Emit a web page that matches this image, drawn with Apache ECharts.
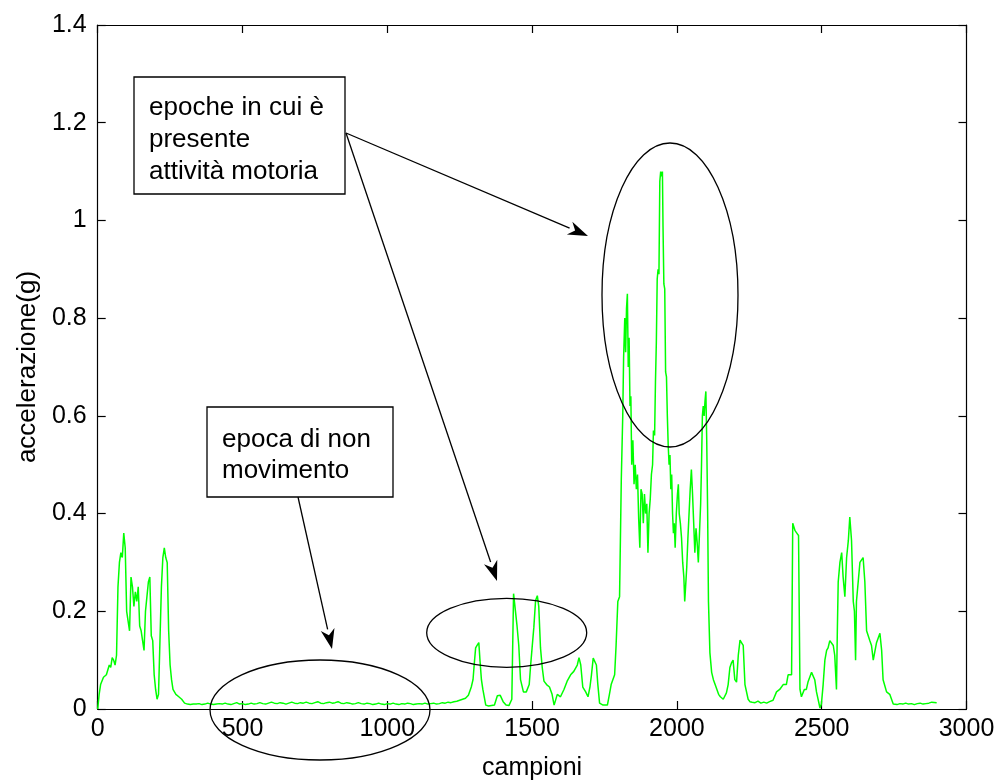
<!DOCTYPE html>
<html><head><meta charset="utf-8">
<script src="https://cdn.jsdelivr.net/npm/echarts@6/dist/echarts.min.js"></script>
<style>html,body{margin:0;padding:0;background:#fff}#c{width:995px;height:780px}</style>
</head><body><div id="c"></div>
<script>
// sample index (campioni)
const samples = [
0,5,10,20,30,40,45,50,55,60,65,70,75,80,85,90,95,100,105,110,115,120,125,130,135,140,145,150,155,160,165,170,175,180,185,190,195,200,205,210,215,220,225,230,235,240,245,250,255,260,270,280,290,300,
310,320,330,340,350,360,370,380,390,400,410,420,430,440,450,460,470,480,490,500,
510,520,530,540,550,560,570,580,590,600,610,620,630,640,650,660,670,680,690,700,
710,720,730,740,750,760,770,780,790,800,810,820,830,840,850,860,870,880,890,900,
910,920,930,940,950,960,970,980,990,1000,1010,1020,1030,1040,1050,1060,1070,1080,1090,1100,
1110,1120,1130,1140,1150,1160,1170,1180,1190,1200,1210,1220,1230,1240,1250,
1260,1270,1280,1290,1296,1300,1305,1310,1316,1320,1325,1330,1340,1350,1360,1370,1380,1390,1400,1410,1420,1430,1436,1442,1448,1454,1460,1470,1480,1490,1495,1500,1506,1512,1518,1523,1529,1535,1541,1550,1560,1569,1576,1587,1598,1610,1621,1633,1644,1656,1662,1668,1675,1685,1693,1700,1705,1711,1716,1722,1727,1733,1745,1760,1767,1773,1785,
1790,1796,1802,1808,1813,1816,1820,1823,1826,1829,1832,1835,1838,1841,1844,1848,1852,1856,1860,1864,1868,1872,1876,1880,1884,1888,1892,1896,1900,1904,1908,1912,1916,1919,1923,1926,1929,1932,1935,1938,1941,1944,1947,1950,1952,1955,1958,1961,1964,1967,1970,1973,1976,1979,1982,1985,1988,1991,1994,1998,2002,2005,2008,2012,2016,2020,2024,2027,2030,2034,2038,2042,2046,2050,2054,2058,2062,2066,2070,2074,2078,2082,2085,2088,2091,2094,2097,2100,2103,2106,2109,2114,2120,2126,2132,2138,2144,
2150,2160,2171,2177,2183,2189,2194,2200,2206,2212,2218,2224,2229,2235,2246,2252,2260,2270,2280,2290,2300,2310,2320,2332,2344,2355,2367,2378,2384,2396,2400,2403,2408,2414,2420,2425,2430,2440,2447,2453,2465,2476,2482,2494,2499,2505,2511,2517,2522,2528,2540,2545,2551,2554,2557,2563,2569,2574,2580,2586,2592,2597,2603,2609,2613,2617,2620,2632,2643,2649,2655,2666,2672,2678,2689,2701,2707,2712,2724,2735,2747,2760,2770,2780,2790,2800,2810,2820,2830,2840,2850,2860,2870,2880,2897
];
// acceleration (g)
const accel = [
0.0,0.03,0.05,0.065,0.07,0.09,0.085,0.105,0.10,0.09,0.11,0.25,0.30,0.32,0.31,0.36,0.33,0.20,0.18,0.16,0.27,0.25,0.21,0.24,0.22,0.25,0.17,0.16,0.14,0.12,0.20,0.23,0.26,0.27,0.15,0.14,0.07,0.04,0.02,0.03,0.14,0.25,0.31,0.33,0.31,0.30,0.16,0.09,0.06,0.04,0.03,0.025,0.02,0.012,
0.010,0.009,0.010,0.010,0.011,0.009,0.010,0.012,0.010,0.009,0.010,0.011,0.010,0.012,0.010,0.009,0.011,0.013,0.010,0.011,
0.009,0.010,0.012,0.010,0.011,0.013,0.011,0.010,0.012,0.014,0.012,0.011,0.013,0.012,0.010,0.012,0.014,0.012,0.011,0.013,
0.012,0.014,0.012,0.011,0.013,0.015,0.012,0.011,0.013,0.014,0.012,0.013,0.015,0.012,0.011,0.013,0.012,0.010,0.011,0.013,
0.011,0.010,0.012,0.011,0.009,0.010,0.012,0.010,0.009,0.011,0.010,0.012,0.010,0.009,0.011,0.010,0.012,0.011,0.009,0.010,
0.011,0.010,0.012,0.010,0.011,0.012,0.010,0.011,0.013,0.012,0.014,0.013,0.015,0.016,0.018,
0.020,0.022,0.028,0.045,0.06,0.09,0.125,0.13,0.136,0.10,0.06,0.04,0.008,0.006,0.007,0.008,0.027,0.028,0.015,0.008,0.007,0.02,0.236,0.24,0.17,0.13,0.06,0.035,0.035,0.05,0.09,0.125,0.167,0.222,0.232,0.21,0.125,0.085,0.057,0.05,0.045,0.03,0.008,0.03,0.025,0.04,0.057,0.07,0.077,0.09,0.105,0.09,0.045,0.035,0.025,0.046,0.07,0.104,0.10,0.09,0.05,0.012,0.008,0.008,0.03,0.05,0.07,
0.13,0.22,0.23,0.47,0.60,0.72,0.80,0.73,0.82,0.85,0.70,0.76,0.62,0.64,0.50,0.55,0.46,0.50,0.45,0.48,0.39,0.33,0.45,0.44,0.38,0.44,0.40,0.42,0.32,0.40,0.43,0.48,0.50,0.57,0.56,0.67,0.75,0.88,0.90,0.89,1.08,1.10,1.09,1.10,0.99,0.87,0.86,0.69,0.68,0.60,0.54,0.50,0.52,0.45,0.48,0.40,0.36,0.38,0.33,0.40,0.44,0.46,0.40,0.38,0.35,0.30,0.27,0.22,0.25,0.29,0.35,0.40,0.45,0.49,0.44,0.38,0.32,0.37,0.34,0.30,0.36,0.42,0.50,0.60,0.62,0.60,0.63,0.65,0.55,0.41,0.22,0.115,0.075,0.06,0.05,0.05,0.03,
0.025,0.02,0.033,0.05,0.085,0.095,0.10,0.06,0.055,0.11,0.141,0.135,0.13,0.05,0.02,0.015,0.014,0.013,0.016,0.012,0.014,0.012,0.015,0.018,0.035,0.04,0.05,0.05,0.07,0.07,0.38,0.38,0.365,0.36,0.355,0.04,0.025,0.04,0.04,0.056,0.075,0.06,0.035,0.002,0.01,0.05,0.10,0.12,0.125,0.14,0.13,0.11,0.04,0.16,0.26,0.30,0.32,0.27,0.23,0.31,0.345,0.393,0.345,0.22,0.20,0.10,0.22,0.30,0.31,0.26,0.16,0.14,0.13,0.10,0.135,0.155,0.12,0.06,0.035,0.03,0.01,0.009,0.011,0.010,0.012,0.010,0.011,0.009,0.011,0.012,0.010,0.011,0.012,0.014,0.013
];
const xTicks = ['0','500','1000','1500','2000','2500','3000'];
const yTicks = ['0','0.2','0.4','0.6','0.8','1','1.2','1.4'];

const FONT = '"Liberation Sans", Arial, sans-serif';
const chart = echarts.init(document.getElementById('c'), null, {renderer: 'canvas'});

function arrow(x1, y1, x2, y2) {
  const dx = x2 - x1, dy = y2 - y1, L = Math.hypot(dx, dy);
  const ux = dx / L, uy = dy / L, hl = 20, hw = 7;
  const bx = x2 - ux * hl, by = y2 - uy * hl;
  return [
    {type: 'line', shape: {x1, y1, x2: bx, y2: by}, style: {stroke: '#000', lineWidth: 1.3}, z: 100},
    {type: 'polygon', shape: {points: [[x2, y2], [bx - uy * hw, by + ux * hw], [x2 - ux * hl * 0.7, y2 - uy * hl * 0.7], [bx + uy * hw, by - ux * hw]]}, style: {fill: '#000'}, z: 100}
  ];
}
function ellipse(cx, cy, rx, ry) {
  return {type: 'ellipse', shape: {cx, cy, rx, ry}, style: {fill: 'none', stroke: '#000', lineWidth: 1.3}, z: 100};
}
function box(x, y, w, h, lines, tx, ty, lh) {
  const g = [{type: 'rect', shape: {x, y, width: w, height: h}, style: {fill: '#fff', stroke: '#000', lineWidth: 1.3}, z: 101}];
  lines.forEach((t, i) => g.push({type: 'text', x: tx, y: ty + i * lh, style: {text: t, font: '26px ' + FONT, fill: '#000', textVerticalAlign: 'middle', verticalAlign: 'middle'}, z: 102}));
  return g;
}

function axisCommon() {
  return {
    axisLine: {show: true, onZero: false, lineStyle: {color: '#000', width: 1.2}},
    axisTick: {show: true, inside: true, length: 8, lineStyle: {color: '#000', width: 1.2}},
    splitLine: {show: false}
  };
}

chart.setOption({
  backgroundColor: '#fff',
  animation: false,
  grid: {left: 97.7, right: 28.5, top: 25, bottom: 71, containLabel: false, outerBoundsMode: 'none'},
  xAxis: [
    Object.assign({type: 'value', min: 0, max: 3000, interval: 500, position: 'bottom',
      name: 'campioni', nameLocation: 'middle', nameGap: 47,
      nameTextStyle: {fontFamily: FONT, fontSize: 25, color: '#000'},
      axisLabel: {fontFamily: FONT, fontSize: 25, color: '#000', margin: 8,
        formatter: (v) => xTicks[Math.round(v / 500)]}}, axisCommon()),
    Object.assign({type: 'value', min: 0, max: 3000, interval: 500, position: 'top', axisLabel: {show: false}}, axisCommon())
  ],
  yAxis: [
    Object.assign({type: 'value', min: 0, max: 1.4, interval: 0.2, position: 'left',
      name: 'accelerazione(g)', nameLocation: 'middle', nameGap: 55,
      nameTextStyle: {fontFamily: FONT, fontSize: 26, color: '#000'},
      axisLabel: {fontFamily: FONT, fontSize: 25, color: '#000', margin: 11,
        formatter: (v) => yTicks[Math.round(v / 0.2)]}}, axisCommon()),
    Object.assign({type: 'value', min: 0, max: 1.4, interval: 0.2, position: 'right', axisLabel: {show: false}}, axisCommon())
  ],
  series: [{
    type: 'line',
    data: samples.map((s, i) => [s, accel[i]]),
    showSymbol: false,
    symbol: 'none',
    sampling: null,
    lineStyle: {color: '#00ff00', width: 1.5},
    z: 3
  }],
  graphic: [].concat(
    ellipse(670, 295, 68, 152),
    ellipse(506.7, 632.8, 80, 34.5),
    ellipse(320, 710, 110, 50),
    box(134, 77, 211, 117, ['epoche in cui è', 'presente', 'attività motoria'], 149, 108, 32),
    box(207, 407, 186, 90, ['epoca di non', 'movimento'], 222, 440, 31),
    arrow(346, 133, 588, 236),
    arrow(346, 133, 497, 581),
    arrow(298, 497, 332, 649)
  )
});
</script>
</body></html>
